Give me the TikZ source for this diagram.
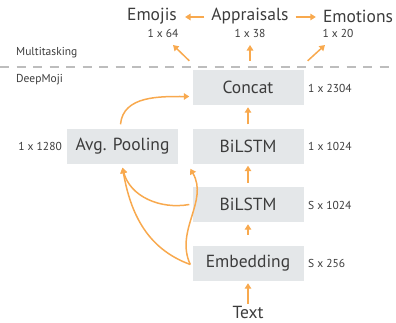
\documentclass[tikz,border=0pt]{standalone}
\usepackage{fontspec}
\setmainfont{PT Sans}
\usetikzlibrary{arrows.meta}
\definecolor{arrorange}{HTML}{F8A94E}
\definecolor{boxgray}{HTML}{E4E7E9}
\definecolor{txtgray}{HTML}{3C3C3C}
\definecolor{dashgray}{HTML}{BDBDBD}

\begin{document}
\begin{tikzpicture}[x=1pt,y=-1pt,
  box/.style={fill=boxgray,minimum width=111pt,minimum height=35pt,inner sep=0pt,text=txtgray,font=\fontsize{17.5}{20}\selectfont},
  task/.style={text=txtgray,inner sep=0pt,font=\fontsize{17.5}{20}\selectfont},
  dim/.style={text=txtgray,inner sep=0pt,font=\fontsize{11.5}{13}\selectfont},
  arr/.style={draw=arrorange,line width=1.5pt,-{Triangle[length=5.5pt,width=6.5pt]}}]
\useasboundingbox (0,0) rectangle (396,322);
% boxes
\node[box] (concat) at (248,87.5) {Concat};
\node[box] (lstmtop) at (248,146) {BiLSTM};
\node[box] (lstmbot) at (248,204.5) {BiLSTM};
\node[box] (embed) at (248,263.5) {Embedding};
\node[box] (pool) at (122.5,146) {Avg. Pooling};
\node[task] (text) at (248,312) {Text};
% outputs
\node[task] (emojis) at (152,16) {Emojis};
\node[task] (apprais) at (250,16) {Appraisals};
\node[task] (emotions) at (358,16) {Emotions};
\node[dim] (dimemo) at (163,33) {1 x 64};
\node[dim] (dimapp) at (250,33) {1 x 38};
\node[dim] (dimemt) at (338,33) {1 x 20};
% sizes
\node[dim,anchor=west] (dimconcat) at (308,88) {1 x 2304};
\node[dim,anchor=west] (dimtop) at (308,146) {1 x 1024};
\node[dim,anchor=west] (dimbot) at (308,205) {S x 1024};
\node[dim,anchor=west] (dimemb) at (308,263) {S x 256};
\node[dim,anchor=east] (dimpool) at (62,146) {1 x 1280};
% split
\draw[dashgray,line width=2pt,dash pattern=on 9pt off 7.5pt] (0,67) -- (396,67);
\node[dim,anchor=west] (multi) at (16,53) {Multitasking};
\node[dim,anchor=west] (deep) at (16,80) {DeepMoji};
% arrows
\draw[arr] ([yshift=2pt]text.north) -- ([yshift=-2pt]embed.south);
\draw[arr] ([yshift=11pt]embed.north) -- ([yshift=-2pt]lstmbot.south);
\draw[arr] ([yshift=4pt]lstmbot.north) -- ([yshift=-2pt]lstmtop.south);
\draw[arr] ([yshift=4pt]lstmtop.north) -- ([yshift=-2pt]concat.south);
\draw[arr] ([xshift=-3pt,yshift=9pt]concat.north west) -- (173,45);
\draw[arr] ([xshift=2pt,yshift=9pt]concat.north) -- (250,45);
\draw[arr] ([xshift=4pt,yshift=9pt]concat.north east) -- (325,45);
\draw[arr] ([xshift=-7pt,yshift=-1pt]apprais.west) -- ([xshift=8pt,yshift=-1pt]emojis.east);
\draw[arr] ([xshift=7pt,yshift=-1pt]apprais.east) -- ([xshift=-7pt,yshift=-1pt]emotions.west);
% skip connections
\draw[arr] ([xshift=-2pt,yshift=4pt]pool.north) to[out=85,in=180] ([xshift=-3pt,yshift=-9pt]concat.west);
\draw[arr] ([xshift=-3pt]lstmbot.west) to[out=190,in=-75] ([yshift=-4pt]pool.south);
\draw[arr] ([xshift=-2pt,yshift=-1pt]embed.west) to[out=160,in=-80] ([yshift=-4pt]pool.south);
\draw[arr] ([xshift=-2pt,yshift=-1pt]embed.west) to[out=115,in=-60] ([xshift=-2pt,yshift=-5pt]lstmtop.south west);
\end{tikzpicture}
\end{document}
